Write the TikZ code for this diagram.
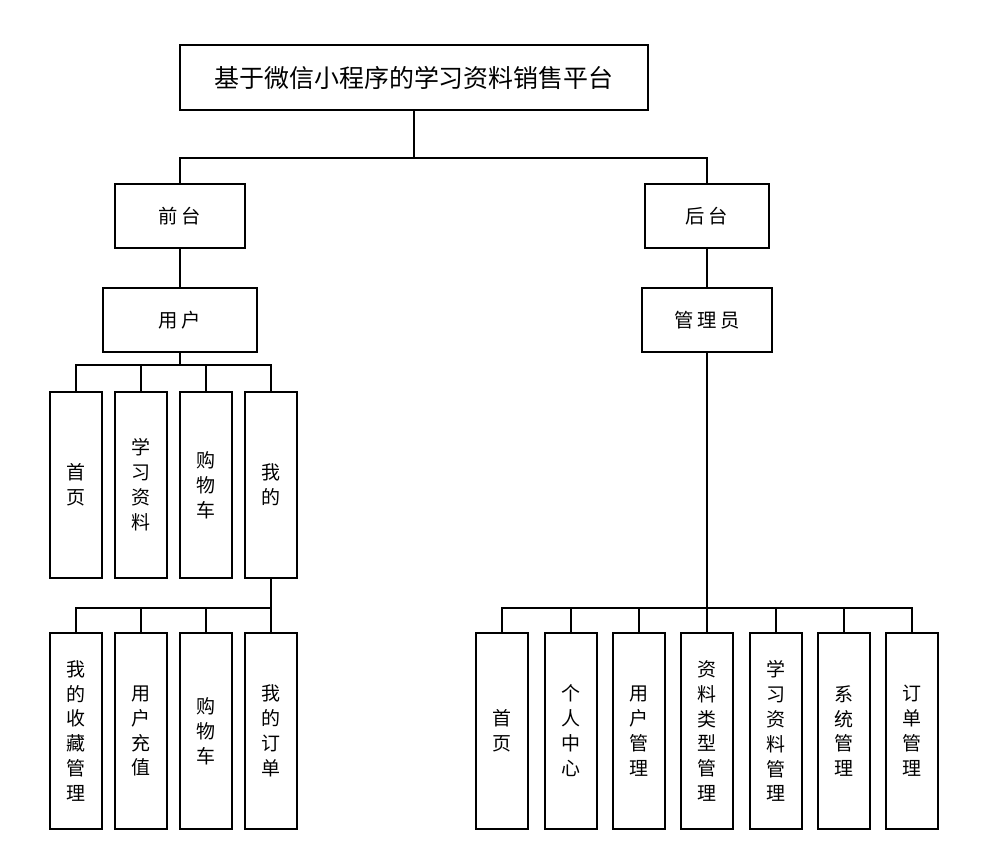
\documentclass[tikz,border=0pt]{standalone}
\usepackage{fontspec}
\setmainfont{Noto Sans CJK SC}
\usetikzlibrary{positioning}

\begin{document}
\begin{tikzpicture}[x=0.02cm,y=-0.02cm,line width=1pt]
                \tikzstyle{box}=[draw=black,fill=white,line width=1.1pt,inner sep=0pt,font=\fontsize{11}{13}\selectfont]
                \tikzstyle{tall}=[box,minimum width=52*0.02cm,align=center,font=\fontsize{10.8}{14.2}\selectfont]
                \useasboundingbox (0,0) rectangle (993,863);

                % top levels
                \node[box, minimum width=468*0.02cm, minimum height=65*0.02cm,
                      font=\fontsize{14.2}{16}\selectfont] (title) at (414,77.5) {基于微信小程序的学习资料销售平台};
                \node[box, minimum width=130*0.02cm, minimum height=64*0.02cm] (qt)  at (180,216) {前\hspace{2pt}台};
                \node[box, minimum width=124*0.02cm, minimum height=64*0.02cm] (ht)  at (707,216) {后\hspace{2pt}台};
                \node[box, minimum width=154*0.02cm, minimum height=64*0.02cm] (yh)  at (180,320) {用\hspace{2pt}户};
                \node[box, minimum width=130*0.02cm, minimum height=64*0.02cm] (gly) at (707,320) {管\hspace{2pt}理\hspace{2pt}员};

                % user modules
                \foreach \x/\t [count=\i] in {76/首\\页, 141/学\\习\\资\\料, 206/购\\物\\车, 271/我\\的}
                    \node[tall, minimum height=186*0.02cm] (u\i) at (\x,485) {\t};

                % my modules
                \foreach \x/\t [count=\i] in {76/我\\的\\收\\藏\\管\\理, 141/用\\户\\充\\值, 206/购\\物\\车, 271/我\\的\\订\\单}
                    \node[tall, minimum height=196*0.02cm] (m\i) at (\x,731) {\t};

                % admin modules
                \foreach \x/\t [count=\i] in {502/首\\页, 571/个\\人\\中\\心, 639/用\\户\\管\\理, 707/资\\料\\类\\型\\管\\理,
                                              776/学\\习\\资\\料\\管\\理, 844/系\\统\\管\\理, 912/订\\单\\管\\理}
                    \node[tall, minimum height=196*0.02cm] (a\i) at (\x,731) {\t};

                % junctions
                \coordinate (j0) at (414,158);
                \coordinate (j1) at (180,365);
                \coordinate (j2) at (271,608);
                \coordinate (j3) at (707,608);

                \draw (title.south) -- (j0);
                \draw (j0) -| (qt.north);
                \draw (j0) -| (ht.north);
                \draw (qt.south) -- (yh.north);
                \draw (ht.south) -- (gly.north);
                \draw (yh.south) -- (j1);
                \foreach \i in {1,...,4}
                    \draw (j1) -| (u\i.north);
                \draw (u4.south) -- (j2);
                \foreach \i in {1,...,4}
                    \draw (j2) -| (m\i.north);
                \draw[line width=1.4pt] (gly.south) -- (j3);
                \foreach \i in {1,...,7}
                    \draw (j3) -| (a\i.north);
\end{tikzpicture}
\end{document}
